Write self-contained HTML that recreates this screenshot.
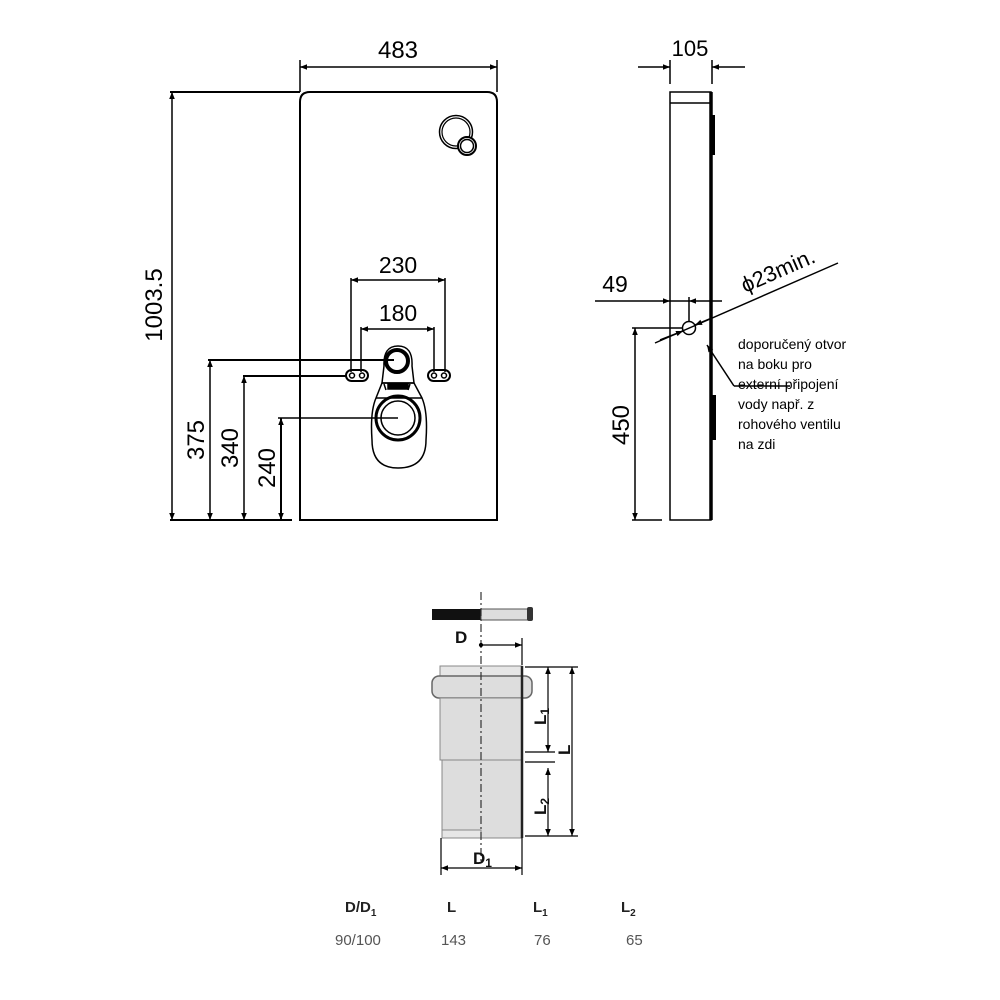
<!DOCTYPE html>
<html><head><meta charset="utf-8"><style>
html,body{margin:0;padding:0;background:#fff}
svg{display:block}
text{font-family:"Liberation Sans",sans-serif}
</style></head><body>
<svg width="1000" height="1000" viewBox="0 0 1000 1000" xmlns="http://www.w3.org/2000/svg">
<defs>
<marker id="a" viewBox="0 0 10 10" refX="10" refY="5" markerWidth="13" markerHeight="7" orient="auto-start-reverse" markerUnits="userSpaceOnUse"><path d="M0,1 L10,5 L0,9 z" fill="#000"/></marker>
</defs>
<g stroke="#000" fill="none" stroke-width="1.5">
<path d="M300,520 L300,102 Q300,92 310,92 L487,92 Q497,92 497,102 L497,520 Z" stroke-width="2"/>
<line x1="300" y1="60" x2="300" y2="92"/><line x1="497" y1="60" x2="497" y2="92"/>
<line x1="300" y1="67" x2="497" y2="67" marker-start="url(#a)" marker-end="url(#a)"/>
<line x1="170" y1="92" x2="300" y2="92" stroke-width="2"/>
<line x1="170" y1="520" x2="292" y2="520" stroke-width="2"/>
<line x1="172" y1="92" x2="172" y2="520" marker-start="url(#a)" marker-end="url(#a)"/>
<line x1="208" y1="360" x2="394" y2="360" stroke-width="2"/>
<line x1="210" y1="360" x2="210" y2="520" marker-start="url(#a)" marker-end="url(#a)"/>
<line x1="243" y1="376" x2="347" y2="376" stroke-width="2"/>
<line x1="244" y1="376" x2="244" y2="520" marker-start="url(#a)" marker-end="url(#a)"/>
<line x1="278" y1="418" x2="398" y2="418"/>
<line x1="281" y1="418" x2="281" y2="520" marker-start="url(#a)" marker-end="url(#a)" stroke-width="2"/>
<circle cx="456" cy="132" r="16.5" stroke-width="1.5"/>
<circle cx="456" cy="132" r="14" stroke-width="1.2"/>
<circle cx="467" cy="146" r="9" fill="#fff" stroke-width="2"/>
<circle cx="467" cy="146" r="6.5"/>
<line x1="351" y1="280" x2="445" y2="280" marker-start="url(#a)" marker-end="url(#a)"/>
<line x1="351" y1="278" x2="351" y2="372"/><line x1="445" y1="278" x2="445" y2="372"/>
<line x1="361" y1="329" x2="434" y2="329" marker-start="url(#a)" marker-end="url(#a)"/>
<line x1="361" y1="327" x2="361" y2="372"/><line x1="434" y1="327" x2="434" y2="372"/>
<rect x="346" y="370" width="22" height="11" rx="5.5" stroke-width="2"/>
<circle cx="352" cy="375.5" r="2.5"/><circle cx="362" cy="375.5" r="2.5"/>
<rect x="428" y="370" width="22" height="11" rx="5.5" stroke-width="2"/>
<circle cx="434" cy="375.5" r="2.5"/><circle cx="444" cy="375.5" r="2.5"/>
<path d="M384,366 Q383,346 398,346 Q413,346 412,366 L414,383 L382,383 Z"/>
<circle cx="397" cy="361" r="11" stroke-width="4"/>
<path d="M382,383 L414,383 L422,398 Q428,412 426,440 Q426,468 398,468 Q372,468 372,440 Q370,412 376,398 Z"/>
<path d="M376,398 L422,398 M384,384 L386,390 M410,384 L408,390"/>
<rect x="388" y="384" width="20" height="5" fill="#000"/>
<circle cx="398" cy="418" r="22" stroke-width="3"/>
<circle cx="398" cy="418" r="17"/>
<rect x="670" y="92" width="41" height="428"/>
<line x1="670" y1="103" x2="711" y2="103"/>
<line x1="711" y1="92" x2="711" y2="520" stroke-width="3.5"/>
<rect x="712" y="115" width="3" height="40" fill="#000" stroke="none"/>
<rect x="712" y="395" width="4" height="45" fill="#000" stroke="none"/>
<line x1="670" y1="60" x2="670" y2="84"/><line x1="712" y1="60" x2="712" y2="84"/>
<line x1="638" y1="67" x2="670" y2="67" marker-end="url(#a)"/>
<line x1="745" y1="67" x2="712" y2="67" marker-end="url(#a)"/>
<line x1="595" y1="301" x2="670" y2="301" marker-end="url(#a)"/>
<line x1="722" y1="301" x2="689" y2="301" marker-end="url(#a)"/>
<line x1="670" y1="301" x2="689" y2="301"/>
<line x1="689" y1="297" x2="689" y2="321"/>
<circle cx="689" cy="328" r="6.5"/>
<line x1="655" y1="343" x2="838" y2="263"/>
<line x1="660" y1="340" x2="683" y2="331" marker-end="url(#a)"/>
<line x1="712" y1="318" x2="695" y2="325" marker-end="url(#a)"/>
<path d="M734,386 L707,345" marker-end="url(#a)"/>
<line x1="734" y1="386" x2="790" y2="386"/>
<line x1="632" y1="328" x2="682" y2="328"/>
<line x1="632" y1="520" x2="662" y2="520"/>
<line x1="635" y1="328" x2="635" y2="520" marker-start="url(#a)" marker-end="url(#a)"/>
</g>
<g fill="#000" font-size="23">
<text x="398" y="58" text-anchor="middle" font-size="24">483</text>
<text x="690" y="56" text-anchor="middle" font-size="22">105</text>
<text x="398" y="273" text-anchor="middle" font-size="23">230</text>
<text x="398" y="321" text-anchor="middle" font-size="23">180</text>
<text x="615" y="292" text-anchor="middle" font-size="23">49</text>
<text transform="translate(162,305) rotate(-90)" text-anchor="middle" font-size="24">1003.5</text>
<text transform="translate(204,440) rotate(-90)" text-anchor="middle" font-size="24">375</text>
<text transform="translate(238,448) rotate(-90)" text-anchor="middle" font-size="24">340</text>
<text transform="translate(275,468) rotate(-90)" text-anchor="middle" font-size="24">240</text>
<text transform="translate(629,425) rotate(-90)" text-anchor="middle" font-size="24">450</text>
<text transform="translate(745,293) rotate(-23.6)" font-size="22">ϕ23min.</text>
<g font-size="14">
<text x="738" y="349">doporučený otvor</text>
<text x="738" y="369">na boku pro</text>
<text x="738" y="389">externí připojení</text>
<text x="738" y="409">vody např. z</text>
<text x="738" y="429">rohového ventilu</text>
<text x="738" y="449">na zdi</text>
</g>
</g>
<g>
<rect x="432" y="609" width="49" height="11" fill="#111"/>
<rect x="481" y="609" width="47" height="11" fill="#ddd" stroke="#555"/>
<rect x="527" y="607" width="6" height="14" rx="2" fill="#333"/>
<rect x="440" y="666" width="82" height="12" fill="#e6e6e6" stroke="#888"/>
<rect x="432" y="676" width="100" height="22" rx="7" fill="#ddd" stroke="#666" stroke-width="1.5"/>
<rect x="440" y="698" width="82" height="62" fill="#ddd" stroke="#888"/>
<rect x="442" y="760" width="80" height="78" fill="#ddd" stroke="#888"/>
<rect x="442" y="830" width="39" height="8" fill="#e6e6e6" stroke="#888"/>
<line x1="522" y1="666" x2="522" y2="838" stroke="#222" stroke-width="2.5"/>
<line x1="481" y1="592" x2="481" y2="862" stroke="#333" stroke-width="1.2" stroke-dasharray="8,3,2,3"/>
</g>
<g stroke="#000" fill="none" stroke-width="1.2">
<line x1="481" y1="645" x2="522" y2="645" marker-end="url(#a)"/>
<circle cx="481" cy="645" r="1.5" fill="#000"/>
<line x1="522" y1="638" x2="522" y2="665"/>
<line x1="525" y1="667" x2="578" y2="667"/>
<line x1="525" y1="752" x2="555" y2="752"/>
<line x1="525" y1="762" x2="555" y2="762"/>
<line x1="525" y1="836" x2="578" y2="836"/>
<line x1="548" y1="667" x2="548" y2="752" marker-start="url(#a)" marker-end="url(#a)"/>
<line x1="548" y1="768" x2="548" y2="836" marker-start="url(#a)" marker-end="url(#a)"/>
<line x1="572" y1="667" x2="572" y2="836" marker-start="url(#a)" marker-end="url(#a)"/>
<line x1="441" y1="838" x2="441" y2="875"/>
<line x1="522" y1="838" x2="522" y2="875"/>
<line x1="441" y1="868" x2="522" y2="868" marker-start="url(#a)" marker-end="url(#a)"/>
</g>
<g fill="#111" font-weight="bold" font-size="17">
<text x="455" y="643">D</text>
<text x="473" y="864">D<tspan font-size="12" dy="3">1</tspan></text>
<text transform="translate(546,725) rotate(-90)">L<tspan font-size="12" dy="3">1</tspan></text>
<text transform="translate(570,755) rotate(-90)">L</text>
<text transform="translate(546,815) rotate(-90)">L<tspan font-size="12" dy="3">2</tspan></text>
</g>
<g fill="#222" font-size="15">
<text x="345" y="912" font-weight="bold">D/D<tspan font-size="10" dy="4">1</tspan></text>
<text x="447" y="912" font-weight="bold">L</text>
<text x="533" y="912" font-weight="bold">L<tspan font-size="10" dy="4">1</tspan></text>
<text x="621" y="912" font-weight="bold">L<tspan font-size="10" dy="4">2</tspan></text>
</g>
<g fill="#555" font-size="15">
<text x="335" y="945">90/100</text>
<text x="441" y="945">143</text>
<text x="534" y="945">76</text>
<text x="626" y="945">65</text>
</g>
</svg>
</body></html>
